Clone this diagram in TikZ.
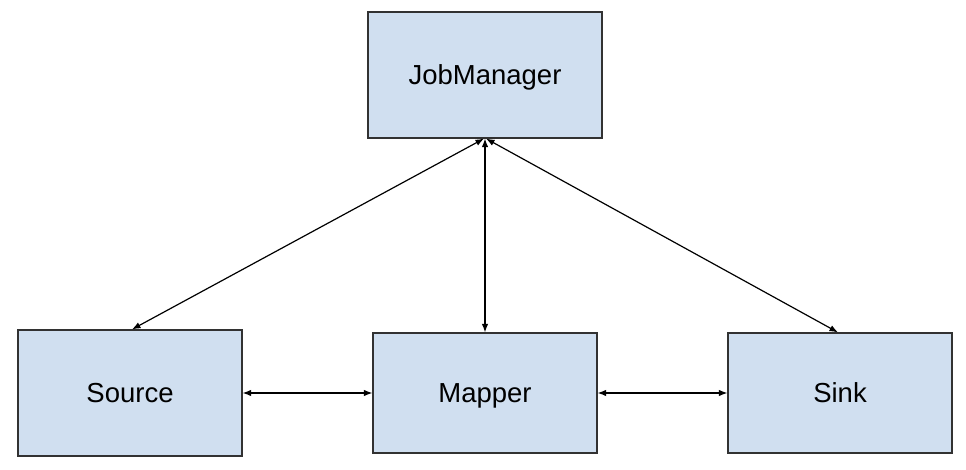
\documentclass[tikz,border=0pt]{standalone}
\usepackage{fontspec}
\setmainfont{Liberation Sans}
\usetikzlibrary{arrows.meta}
\definecolor{boxfill}{RGB}{208,223,240}
\definecolor{boxline}{RGB}{50,50,50}
\begin{document}
\begin{tikzpicture}[x=1pt,y=1pt,
  box/.style={draw=boxline,line width=1.2pt,fill=boxfill,minimum width=224pt,minimum height=124pt,inner sep=0pt,font=\fontsize{27.5}{32}\selectfont,text height=19.7pt,text depth=0pt,anchor=center},
  conn/.style={line width=1.2pt,{Latex[length=8.5pt,width=6.5pt]}-{Latex[length=8.5pt,width=6.5pt]}}]
\useasboundingbox (0,0) rectangle (966,470);
\node[box,minimum width=234pt,minimum height=126pt] (jm) at (485,395) {JobManager};
\node[box,minimum height=126pt] (src) at (130,77) {Source};
\node[box,minimum height=120pt] (map) at (485,77) {Mapper};
\node[box,minimum height=120pt] (snk) at (840,77) {Sink};
\draw[conn] ([xshift=-1pt]jm.south) -- ([xshift=2pt]src.north);
\draw[conn] (jm.south) -- (map.north);
\draw[conn] ([xshift=1pt]jm.south) -- ([xshift=-2pt]snk.north);
\draw[conn] (src.east) -- (map.west);
\draw[conn] (map.east) -- (snk.west);
\end{tikzpicture}
\end{document}
